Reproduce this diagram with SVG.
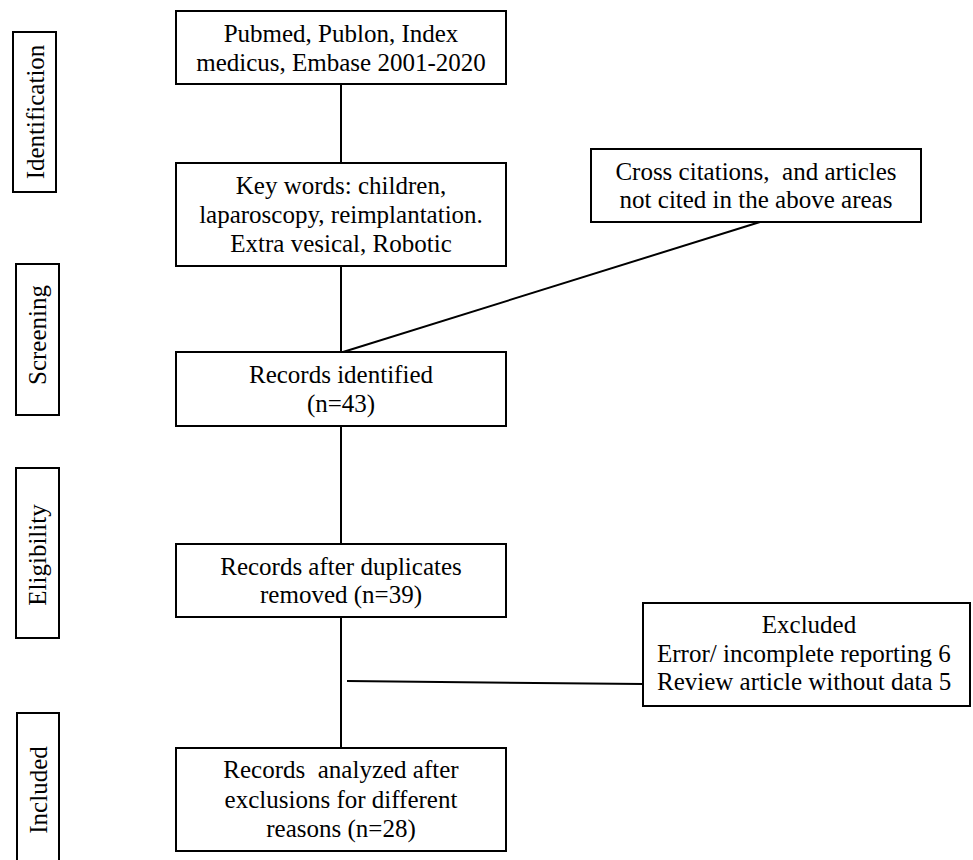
<svg xmlns="http://www.w3.org/2000/svg" width="973" height="860" viewBox="0 0 973 860">
<style>
.box{fill:#fff;stroke:#000;stroke-width:2}
.t{font-family:'Liberation Serif',Tinos,'DejaVu Serif',serif;font-size:25px;fill:#000;text-anchor:middle}
.s{text-anchor:start}
.pre{white-space:pre}
.c{stroke:#000;stroke-width:2;fill:none}
</style>
<rect width="973" height="860" fill="#fff"/>
<g id="connectors">
<line class="c" x1="341" y1="84" x2="341" y2="163"/>
<line class="c" x1="341" y1="266" x2="341" y2="352"/>
<line class="c" x1="760" y1="222" x2="343" y2="352"/>
<line class="c" x1="341" y1="426" x2="341" y2="544"/>
<line class="c" x1="341" y1="617" x2="341" y2="748"/>
<line class="c" x1="347" y1="681" x2="643" y2="684"/>
</g>
<g id="stage-identification">
<rect class="box" x="13" y="32" width="43" height="160"/>
<text class="t" transform="translate(44,112) rotate(-90)">Identification</text>
</g>
<g id="stage-screening">
<rect class="box" x="16" y="264" width="43" height="151"/>
<text class="t" transform="translate(46,335) rotate(-90)">Screening</text>
</g>
<g id="stage-eligibility">
<rect class="box" x="16" y="468" width="43" height="170"/>
<text class="t" transform="translate(46,555) rotate(-90)">Eligibility</text>
</g>
<g id="stage-included">
<rect class="box" x="17" y="713" width="42" height="155"/>
<text class="t" transform="translate(47,790) rotate(-90)">Included</text>
</g>
<g id="databases">
<rect class="box" x="176" y="11" width="330" height="73"/>
<text class="t" x="341" y="42">Pubmed, Publon, Index</text>
<text class="t" x="341" y="71">medicus, Embase 2001-2020</text>
</g>
<g id="keywords">
<rect class="box" x="176" y="163" width="330" height="103"/>
<text class="t" x="341" y="194">Key words: children,</text>
<text class="t" x="341" y="223">laparoscopy, reimplantation.</text>
<text class="t" x="341" y="252">Extra vesical, Robotic</text>
</g>
<g id="cross-citations">
<rect class="box" x="591" y="149" width="330" height="73"/>
<text class="t pre" x="756" y="180">Cross citations,  and articles</text>
<text class="t" x="756" y="208">not cited in the above areas</text>
</g>
<g id="records-identified">
<rect class="box" x="176" y="352" width="330" height="74"/>
<text class="t" x="341" y="383">Records identified</text>
<text class="t" x="341" y="412">(n=43)</text>
</g>
<g id="records-deduplicated">
<rect class="box" x="176" y="544" width="330" height="73"/>
<text class="t" x="341" y="575">Records after duplicates</text>
<text class="t" x="341" y="603">removed (n=39)</text>
</g>
<g id="excluded">
<rect class="box" x="643" y="603" width="327" height="103"/>
<text class="t" x="809" y="633">Excluded</text>
<text class="t s" x="657" y="662">Error/ incomplete reporting 6</text>
<text class="t s" x="657" y="690">Review article without data 5</text>
</g>
<g id="records-analyzed">
<rect class="box" x="176" y="748" width="330" height="103"/>
<text class="t pre" x="341" y="778">Records  analyzed after</text>
<text class="t" x="341" y="808">exclusions for different</text>
<text class="t" x="341" y="837">reasons (n=28)</text>
</g>
</svg>
